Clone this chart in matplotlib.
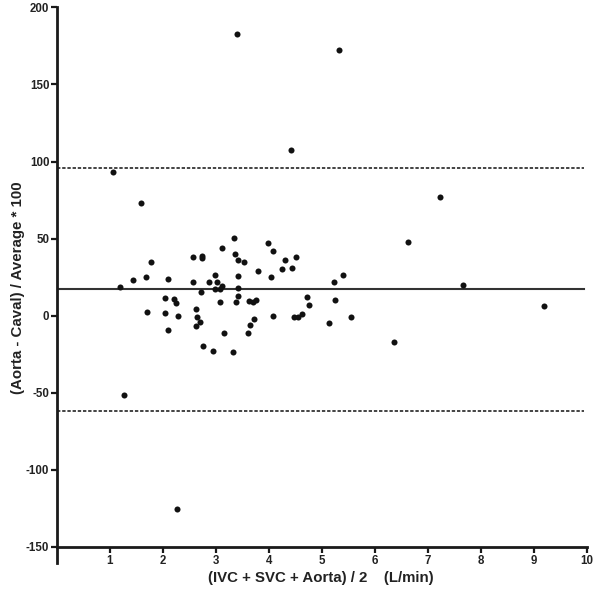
import matplotlib
matplotlib.use("Agg")
import matplotlib.pyplot as plt

# Average flow (L/min) and percentage difference
avg_flow = [
    3.34, 3.98, 3.12, 4.08, 2.57, 2.73, 2.74, 3.36, 3.42, 3.53, 4.30, 1.78,
    1.43, 1.68, 2.09, 2.57, 2.99, 2.87, 3.02, 3.41, 3.79, 4.24, 4.03, 1.18,
    2.72, 2.99, 3.08, 3.11, 3.41, 3.41, 2.03, 2.21, 2.24, 3.08, 3.37, 3.62,
    3.70, 3.75, 1.69, 2.04, 2.28, 2.62, 2.64, 2.70, 2.62, 4.07, 3.71, 3.64,
    3.60, 3.15, 2.09, 2.75, 2.94, 3.32,
    6.62, 4.51, 4.43, 5.39, 5.23, 4.72, 4.75, 5.25, 4.48, 4.54, 4.63, 5.14,
    5.54, 6.36,
    7.66, 9.19,
    3.39, 5.33, 4.42, 1.05, 1.26, 2.27, 1.59, 7.22,
]
pct_diff = [
    50.7, 47.1, 43.9, 42.1, 37.8, 38.9, 37.4, 40.2, 36.1, 34.5, 36.1, 34.5,
    23.3, 24.8, 23.5, 21.6, 26.6, 22.0, 21.6, 25.5, 29.0, 30.2, 25.3, 18.8,
    15.4, 17.1, 17.3, 19.4, 17.9, 13.0, 11.2, 10.8, 8.0, 8.9, 9.1, 9.7,
    8.6, 10.2, 2.1, 1.5, -0.4, 4.3, -1.1, -4.3, -6.9, -0.2, -2.1, -6.0,
    -11.0, -11.2, -9.1, -19.4, -23.1, -23.3,
    47.5, 38.0, 31.1, 26.4, 21.8, 12.1, 7.1, 9.9, -1.1, -1.1, 1.3, -4.5,
    -0.6, -17.1,
    19.9, 6.0,
    182.8, 172.2, 107.4, 93.3, -51.6, -125.5, 73.4, 76.7,
]
mean_bias = 17.0
upper_loa = 96.0
lower_loa = -62.0

x_ticks = [1, 2, 3, 4, 5, 6, 7, 8, 9, 10]
y_ticks = [-150, -100, -50, 0, 50, 100, 150, 200]

plt.rcParams['font.family'] = ['Liberation Sans', 'DejaVu Sans']

fig = plt.figure(figsize=(6.0, 5.95), dpi=100)
ax = fig.add_axes([0.095, 0.0538, 0.883, 0.9339])

ax.scatter(avg_flow, pct_diff, s=19, color='#111111', zorder=3, linewidths=0)

ax.plot([0, 9.95], [mean_bias, mean_bias], color='#333333', lw=1.5, zorder=2)
ax.plot([0, 9.95], [upper_loa, upper_loa], color='#111111', lw=1.1,
        dashes=(2.2, 1.2), zorder=2)
ax.plot([0, 9.95], [lower_loa, lower_loa], color='#111111', lw=1.1,
        dashes=(2.2, 1.2), zorder=2)

ax.set_xlim(0, 10)
ax.set_ylim(-160.4, 200)

for s in ['top', 'right']:
    ax.spines[s].set_visible(False)
ax.spines['bottom'].set_position(('data', -150))
ax.spines['left'].set_linewidth(2.0)
ax.spines['bottom'].set_linewidth(2.0)
ax.spines['left'].set_color('#1a1a1a')
ax.spines['bottom'].set_color('#1a1a1a')

ax.set_xticks(x_ticks)
ax.set_xticklabels([str(t) for t in x_ticks])
ax.set_yticks(y_ticks)
ax.set_yticklabels([str(t) for t in y_ticks])
ax.tick_params(axis='both', direction='out', length=4, width=1.6,
               color='#1a1a1a', labelsize=8.3, pad=1.5)
for lab in ax.get_xticklabels() + ax.get_yticklabels():
    lab.set_fontweight('bold')
    lab.set_color('#222222')

fig.text(0.535, 1 - 578 / 595, '(IVC + SVC + Aorta) / 2    (L/min)',
         fontsize=10.8, fontweight='bold', color='#222222',
         ha='center', va='center')
fig.text(0.03, 1 - 288 / 595, '(Aorta - Caval) / Average * 100',
         fontsize=10.8, fontweight='bold', color='#222222',
         ha='center', va='center', rotation=90)

fig.savefig('out.png', dpi=100)
